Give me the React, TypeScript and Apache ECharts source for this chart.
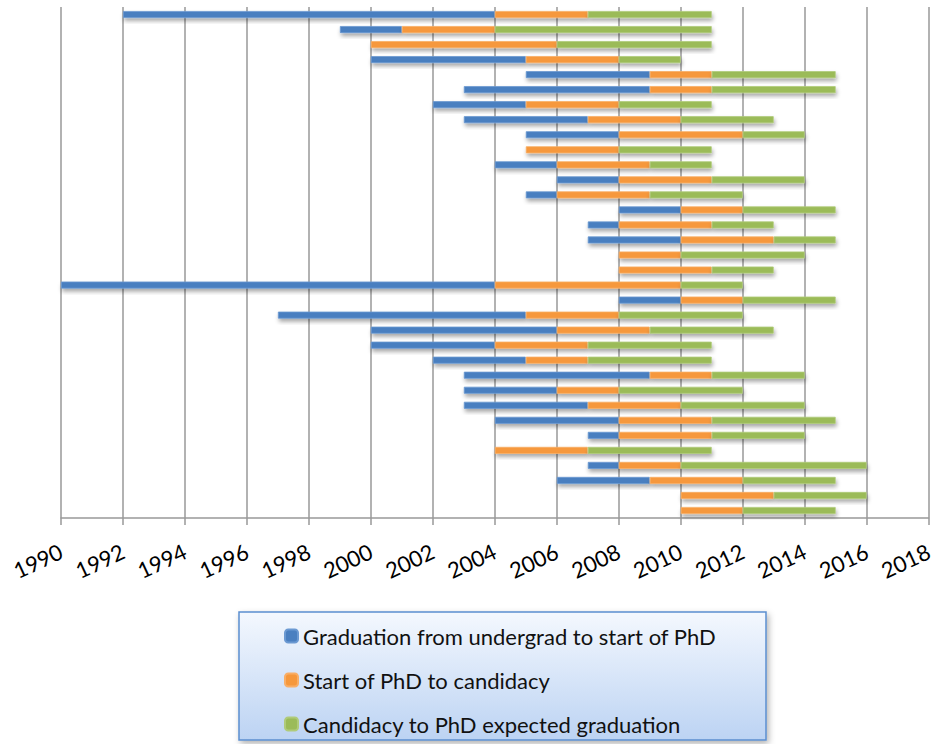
import React, { useEffect, useRef } from "react";
import * as echarts from "echarts";

const categories = [
  "1", "2", "3", "4", "5", "6", "7", "8", "9", "10", "11", "12", "13", "14", "15", "16", "17",
  "18", "19", "20", "21", "22", "23", "24", "25", "26", "27", "28", "29", "30", "31", "32", "33", "34",
];

// Year in which each bar begins
const startYears = [
  1992, 1999, 2000, 2000, 2005, 2003, 2002, 2003, 2005, 2005, 2004, 2006, 2005, 2008, 2007, 2007, 2008,
  2008, 1990, 2008, 1997, 2000, 2000, 2002, 2003, 2003, 2003, 2004, 2007, 2004, 2007, 2006, 2010, 2010,
];
// Graduation from undergrad to start of PhD (years)
const undergradToPhd = [
  12, 2, 0, 5, 4, 6, 3, 4, 3, 0, 2, 2, 1, 2, 1, 3, 0,
  0, 14, 2, 8, 6, 4, 3, 6, 3, 4, 4, 1, 0, 1, 3, 0, 0,
];
// Start of PhD to candidacy (years)
const phdToCandidacy = [
  3, 3, 6, 3, 2, 2, 3, 3, 4, 3, 3, 3, 3, 2, 3, 3, 2,
  3, 6, 2, 3, 3, 3, 2, 2, 2, 3, 3, 3, 3, 2, 3, 3, 2,
];
// Candidacy to PhD expected graduation (years)
const candidacyToGrad = [
  4, 7, 5, 2, 4, 4, 3, 3, 2, 3, 2, 3, 3, 3, 2, 2, 4,
  2, 2, 3, 4, 4, 4, 4, 3, 4, 4, 4, 3, 4, 6, 3, 3, 3,
];

const seriesNames = [
  "Graduation from undergrad to start of PhD",
  "Start of PhD to candidacy",
  "Candidacy to PhD expected graduation",
];
const seriesColors = ["#4a7fc0", "#f6983c", "#9bbb59"];
const seriesBorders = ["#6b99d2", "#f9ae66", "#b0cb7a"];

export default function App() {
  const ref = useRef<HTMLDivElement>(null);

  useEffect(() => {
    if (!ref.current) return;
    const chart = echarts.init(ref.current, null, { renderer: "svg" });
    const values = [undergradToPhd, phdToCandidacy, candidacyToGrad];
    const barSeries = values.map((d, i) => ({
      name: seriesNames[i],
      type: "bar",
      stack: "timeline",
      barWidth: 7,
      data: d,
      itemStyle: {
        color: seriesColors[i],
        borderColor: seriesBorders[i],
        borderWidth: 0.8,
        shadowBlur: 4,
        shadowOffsetX: 1,
        shadowOffsetY: 3,
        shadowColor: "rgba(0,0,0,0.35)",
      },
    }));
    const option: any = {
      animation: false,
      grid: { left: 61, right: 6, top: 7, bottom: 226 },
      xAxis: {
        type: "value",
        min: 1990,
        max: 2018,
        interval: 2,
        axisLine: { show: true, lineStyle: { color: "#999", width: 1.5 } },
        axisTick: { show: true, length: 7, lineStyle: { color: "#999", width: 1.5 } },
        splitLine: { show: true, lineStyle: { color: "#999", width: 1.5 } },
        axisLabel: {
          rotate: 25,
          margin: 32,
          fontSize: 22,
          color: "#000",
          fontFamily: "Lato",
          formatter: (v: number) => String(v),
        },
      },
      yAxis: {
        type: "category",
        data: categories,
        inverse: true,
        axisLine: { show: false },
        axisTick: { show: false },
        axisLabel: { show: false },
        splitLine: { show: false },
      },
      legend: {
        data: seriesNames,
        orient: "vertical",
        left: 284,
        top: 625,
        padding: 0,
        itemWidth: 13,
        itemHeight: 13,
        itemGap: 22,
        textStyle: { fontSize: 22, lineHeight: 22, color: "#111", fontFamily: "Lato" },
      },
      graphic: [
        {
          type: "rect",
          z: 0,
          silent: true,
          shape: { x: 239, y: 612, width: 527, height: 128 },
          style: {
            fill: new echarts.graphic.LinearGradient(0, 0, 0, 1, [
              { offset: 0, color: "#f4f8fe" },
              { offset: 1, color: "#bcd3f3" },
            ]),
            stroke: "#5b8fd0",
            lineWidth: 1.5,
            shadowBlur: 6,
            shadowOffsetX: 2,
            shadowOffsetY: 3,
            shadowColor: "rgba(0,0,0,0.3)",
          },
        },
      ],
      series: [
        {
          name: "start",
          type: "bar",
          stack: "timeline",
          barWidth: 7,
          silent: true,
          data: startYears,
          itemStyle: { color: "rgba(0,0,0,0)" },
        },
        ...barSeries,
      ],
    };
    chart.setOption(option);
    return () => chart.dispose();
  }, []);

  return (
    <div
      ref={ref}
      style={{ position: "absolute", left: 0, top: 0, width: 936, height: 744, background: "#fff" }}
    />
  );
}
